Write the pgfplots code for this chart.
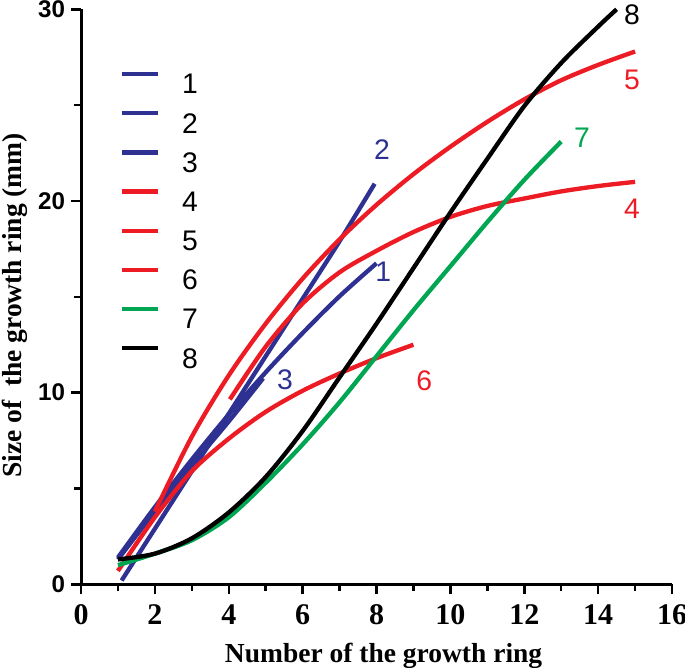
\documentclass[border=0pt]{standalone}
\usepackage{fontspec}
\setmainfont{Liberation Sans}
\newfontfamily\tnr{Liberation Serif}
\usepackage{pgfplots}
\pgfplotsset{compat=1.18}
\definecolor{cblue}{RGB}{46,49,146}
\definecolor{cred}{RGB}{237,28,36}
\definecolor{cgreen}{RGB}{0,166,81}
\begin{document}
\begin{tikzpicture}
\useasboundingbox (-48.6pt,-49.8pt) rectangle (362.4pt,350.6pt);
\begin{axis}[
  at={(0pt,0pt)}, anchor=south west,
  scale only axis, width=354.6pt, height=345pt,
  xmin=0, xmax=16, ymin=0, ymax=30,
  axis x line*=bottom, axis y line*=left,
  axis line style={line width=1.8pt,-},
  xtick={0,2,...,16}, minor xtick={1,3,...,15},
  ytick={0,10,20,30}, minor ytick={5,15,25},
  tick align=outside, major tick length=6pt, minor tick length=4pt,
  every tick/.style={black, line width=1.5pt},
  /pgf/number format/assume math mode=true,
  xticklabel style={font=\tnr\bfseries\fontsize{18}{18}\selectfont, yshift=-2.5pt},
  yticklabel style={font=\bfseries\fontsize{14.5}{14.5}\selectfont},
  xlabel={\tnr\bfseries\fontsize{16.5}{16.5}\selectfont Number of the growth ring},
  ylabel={\tnr\bfseries\fontsize{16.5}{16.5}\selectfont Size of\ \ the growth ring (mm)},
  xlabel style={at={(axis description cs:0.512,-0.125)}, anchor=center},
  ylabel style={at={(axis description cs:-0.112,0.485)}, anchor=center},
  legend cell align=left,
  legend image code/.code={\draw[#1] (0pt,5.5pt) -- (22pt,5.5pt);},
  legend style={draw=none, fill=none, at={(axis cs:1.03,26.75)}, anchor=north west,
    inner sep=0pt, row sep=10.3pt,
    font=\fontsize{17}{17}\selectfont,
    nodes={inner sep=0pt, text height=12.8pt, text depth=0pt},
    /tikz/every odd column/.append style={column sep=13pt}},
  every axis plot/.append style={line width=2.6pt, smooth},
  clip=false,
]
\addplot[cblue] coordinates {(1,1.4)(2,4.03)(3,6.51)(4,8.86)(5,11.06)(6,13.11)(7,15.03)(8,16.75)};
\addplot[cblue] coordinates {(1.1,0.2)(2,2.9)(3,5.9)(4,8.9)(5,11.9)(6,14.9)(7,17.9)(7.95,20.9)};
\addplot[cblue] coordinates {(1,1.3)(2,3.8)(3,6.2)(4,8.5)(4.93,10.75)};
\addplot[cred] coordinates {(4.03,9.65)(5,12.4)(6,14.65)(7,16.28)(8,17.4)(9,18.38)(10,19.17)(11,19.74)(12,20.13)(13,20.5)(14,20.78)(15,21.0)};
\addplot[cred] coordinates {(2,3.8)(3,7.7)(4,10.9)(5,13.6)(6,15.95)(7,18.0)(8,19.8)(9,21.4)(10,22.83)(11,24.13)(12,25.3)(13,26.3)(14,27.1)(15,27.8)};
\addplot[cred] coordinates {(1,0.7)(2,3.5)(3,5.9)(4,7.6)(5,9.0)(6,10.1)(7,11.0)(8,11.8)(9,12.5)};
\addplot[cgreen] coordinates {(1,1.0)(2,1.6)(3,2.3)(4,3.5)(5,5.3)(6,7.3)(7,9.5)(8,11.9)(9,14.3)(10,16.6)(11,18.9)(12,21.1)(13,23.1)};
\addplot[black] coordinates {(1,1.3)(2,1.6)(3,2.4)(4,3.75)(5,5.6)(6,8.0)(7,10.8)(8,13.6)(9,16.5)(10,19.4)(11,22.2)(12,24.95)(13,27.2)(14,29.1)(14.5,30.0)};
\legend{1,2,3,4,5,6,7,8}
\begin{scope}[every node/.style={font=\fontsize{17}{17}\selectfont, inner sep=0pt}]
\node[text=cblue] at (axis cs:8.18,16.3) {1};
\node[text=cblue] at (axis cs:8.15,22.7) {2};
\node[text=cblue] at (axis cs:5.52,10.7) {3};
\node[text=cred] at (axis cs:14.92,19.6) {4};
\node[text=cred] at (axis cs:14.92,26.3) {5};
\node[text=cred] at (axis cs:9.29,10.6) {6};
\node[text=cgreen] at (axis cs:13.56,23.3) {7};
\node[text=black] at (axis cs:14.92,29.7) {8};
\end{scope}
\end{axis}
\end{tikzpicture}
\end{document}
